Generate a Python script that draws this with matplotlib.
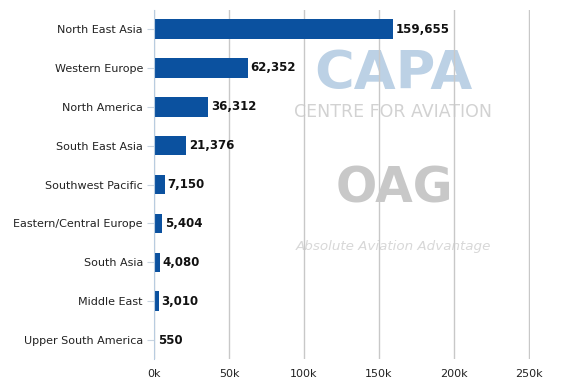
import matplotlib.pyplot as plt
import matplotlib.ticker as mticker

regions = ["North East Asia", "Western Europe", "North America", "South East Asia",
           "Southwest Pacific", "Eastern/Central Europe", "South Asia", "Middle East",
           "Upper South America"]
seats = [159655, 62352, 36312, 21376, 7150, 5404, 4080, 3010, 550]
xticks = [0, 50000, 100000, 150000, 200000, 250000]

fig = plt.figure(figsize=(5.88, 3.92), dpi=100)
ax = fig.add_axes([0.262, 0.083, 0.639, 0.8925])

ypos = list(range(len(regions)))
ax.barh(ypos, seats, height=0.5, color='#0b519f', zorder=3)
for y, v in zip(ypos, seats):
    ax.text(v + 1800, y, f"{v:,}", va='center', ha='left', fontsize=8.5,
            fontweight='bold', color='#111111', zorder=4)

ax.set_xlim(0, 250600)
ax.set_ylim(len(regions) - 0.5, -0.5)
ax.set_yticks(ypos)
ax.set_yticklabels(regions, fontsize=8, color='#222222')
ax.set_xticks(xticks)
ax.xaxis.set_major_formatter(mticker.FuncFormatter(lambda x, p: f"{int(x/1000)}k"))
ax.tick_params(axis='x', length=0, labelsize=8, colors='#222222', pad=7)
ax.tick_params(axis='y', length=5, color='#c8d4e0', pad=3)
ax.grid(axis='x', color='#c8c8c8', linewidth=1, zorder=1)
for s in ['top', 'right', 'bottom']:
    ax.spines[s].set_visible(False)
ax.spines['left'].set_color('#b8cce0')
ax.spines['left'].set_zorder(3)

# watermarks
ax.text(0.636, 0.815, "CAPA", transform=ax.transAxes, ha='center', va='center',
        fontsize=39, fontweight='bold', color='#bcd1e5', zorder=0)
ax.text(0.636, 0.708, "CENTRE FOR AVIATION", transform=ax.transAxes, ha='center',
        va='center', fontsize=12.5, color='#d2d2d2', zorder=0)
ax.text(0.64, 0.49, "OAG", transform=ax.transAxes, ha='center', va='center',
        fontsize=35, fontweight='bold', color='#c8c8c8', zorder=0)
ax.text(0.636, 0.322, "Absolute Aviation Advantage", transform=ax.transAxes,
        ha='center', va='center', fontsize=9.7, style='italic', color='#d8d8d8', zorder=0)

fig.savefig('out.png', dpi=100)
